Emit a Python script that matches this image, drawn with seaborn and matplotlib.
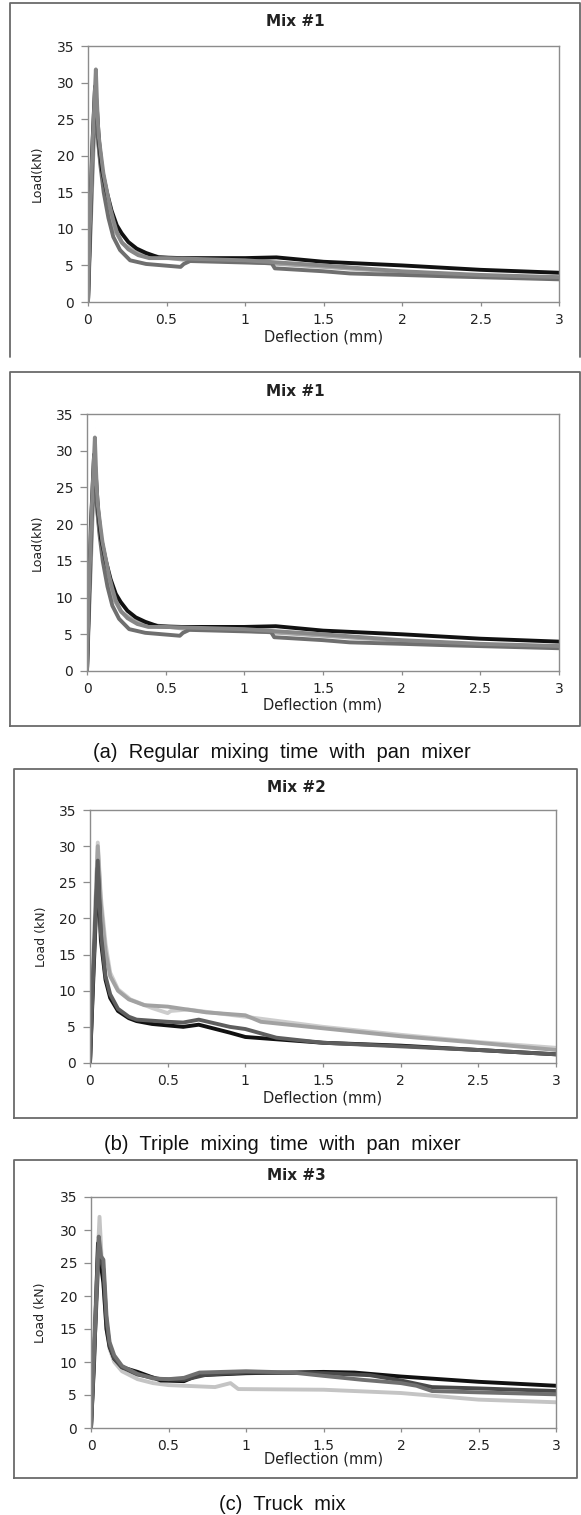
import pandas as pd
import matplotlib
matplotlib.use("Agg")
import matplotlib.pyplot as plt
from matplotlib.lines import Line2D
import seaborn as sns

# Mix #1 (regular mixing time, pan mixer) - four specimens
m1_black_x = [0, 0.01, 0.025, 0.045, 0.055, 0.07, 0.09, 0.12, 0.15, 0.183, 0.214, 0.257, 0.31, 0.37, 0.45, 0.6, 1.0, 1.2, 1.5, 2.0, 2.5, 3.0]
m1_black_y = [0, 8, 20, 29.5, 27, 22, 18, 15, 12.5, 10.5, 9.4, 8.2, 7.3, 6.7, 6.1, 6.0, 6.0, 6.1, 5.5, 5.0, 4.4, 4.0]
m1_gray_x = [0, 0.01, 0.03, 0.05, 0.058, 0.066, 0.081, 0.098, 0.119, 0.14, 0.161, 0.183, 0.214, 0.257, 0.32, 0.39, 0.5, 1.0, 1.5, 2.0, 2.5, 3.0]
m1_gray_y = [0, 9, 22, 31.8, 27, 23.1, 20.4, 17.6, 15.3, 13.0, 11.2, 9.6, 8.2, 7.2, 6.4, 6.0, 6.0, 5.7, 5.0, 4.2, 3.7, 3.4]
m1_dark_x = [0, 0.01, 0.03, 0.045, 0.06, 0.08, 0.1, 0.13, 0.161, 0.204, 0.268, 0.37, 0.48, 0.59, 0.61, 0.65, 1.0, 1.17, 1.19, 1.5, 1.67, 2.0, 2.3, 3.0]
m1_dark_y = [0, 7, 20, 28, 23, 18.5, 15, 11.5, 8.9, 7.1, 5.7, 5.2, 5.0, 4.8, 5.2, 5.6, 5.4, 5.3, 4.6, 4.2, 3.9, 3.7, 3.5, 3.1]
m1_light_x = [0, 0.02, 0.045, 0.06, 0.08, 0.1, 0.13, 0.17, 0.22, 0.3, 0.4, 0.6, 1.0, 1.5, 2.0, 2.5, 3.0]
m1_light_y = [0, 12, 27, 23, 19, 16, 12.5, 9.8, 8.0, 6.8, 6.3, 5.8, 5.5, 4.8, 4.1, 3.6, 3.3]

# Mix #2 (triple mixing time, pan mixer)
m2_light_x = [0, 0.02, 0.05, 0.07, 0.1, 0.13, 0.18, 0.26, 0.4, 0.5, 0.52, 0.63, 1.0, 1.5, 2.0, 2.5, 3.0]
m2_light_y = [0, 14, 30.5, 23, 16.5, 12.5, 10.2, 8.8, 7.6, 6.9, 7.2, 7.4, 6.4, 5.0, 3.9, 2.9, 2.1]
m2_mid_x = [0, 0.02, 0.05, 0.07, 0.1, 0.13, 0.18, 0.25, 0.35, 0.5, 0.75, 1.0, 1.1, 1.5, 2.0, 2.5, 3.0]
m2_mid_y = [0, 13, 30, 22, 15.5, 12, 10, 8.8, 8.0, 7.8, 7.0, 6.6, 5.7, 4.8, 3.7, 2.8, 1.8]
m2_dark_x = [0, 0.02, 0.05, 0.07, 0.1, 0.13, 0.18, 0.25, 0.3, 0.5, 0.6, 0.7, 0.9, 1.0, 1.2, 1.5, 2.0, 2.5, 3.0]
m2_dark_y = [0, 12, 28, 18, 12, 9.5, 7.5, 6.4, 6.0, 5.7, 5.6, 6.0, 5.0, 4.7, 3.5, 2.8, 2.3, 1.8, 1.2]
m2_black_x = [0, 0.02, 0.05, 0.07, 0.1, 0.13, 0.18, 0.25, 0.3, 0.4, 0.6, 0.7, 0.9, 1.0, 1.5, 2.0, 2.5, 3.0]
m2_black_y = [0, 11, 27, 17, 11.5, 9.0, 7.2, 6.2, 5.8, 5.4, 5.0, 5.3, 4.2, 3.6, 2.8, 2.4, 1.8, 1.2]

# Mix #3 (truck mix)
m3_light_x = [0, 0.02, 0.055, 0.07, 0.08, 0.1, 0.12, 0.15, 0.2, 0.3, 0.4, 0.5, 0.8, 0.9, 0.95, 1.5, 2.0, 2.5, 3.0]
m3_light_y = [0, 14, 32, 25, 22, 15, 12, 10, 8.6, 7.4, 6.8, 6.5, 6.2, 6.8, 5.9, 5.8, 5.3, 4.3, 3.9]
m3_dark_x = [0, 0.02, 0.05, 0.065, 0.08, 0.1, 0.12, 0.15, 0.2, 0.3, 0.4, 0.5, 0.6, 0.7, 1.0, 1.3, 1.5, 1.75, 2.0, 2.1, 2.2, 2.5, 3.0]
m3_dark_y = [0, 12, 29, 26, 25.5, 17, 13, 11, 9.4, 8.2, 7.5, 7.4, 7.6, 8.4, 8.6, 8.4, 7.9, 7.3, 6.8, 6.4, 5.6, 5.4, 5.1]
m3_mid_x = [0, 0.02, 0.05, 0.08, 0.1, 0.12, 0.15, 0.2, 0.3, 0.45, 0.6, 0.75, 1.0, 1.5, 1.8, 2.0, 2.2, 2.5, 3.0]
m3_mid_y = [0, 11, 27, 24, 16, 12.5, 10.5, 9.2, 8.1, 7.4, 7.3, 8.1, 8.4, 8.3, 8.0, 7.2, 6.2, 6.0, 5.6]
m3_black_x = [0, 0.02, 0.045, 0.08, 0.1, 0.12, 0.15, 0.2, 0.3, 0.45, 0.6, 0.65, 0.7, 1.0, 1.5, 1.7, 1.8, 2.0, 2.5, 3.0]
m3_black_y = [0, 10, 28, 22, 15, 12.3, 10.5, 9.2, 8.5, 7.2, 7.1, 7.6, 8.0, 8.3, 8.5, 8.4, 8.2, 7.8, 7.0, 6.4]

titles = ["Mix #1", "Mix #1", "Mix #2", "Mix #3"]
ylabels = ["Load(kN)", "Load(kN)", "Load (kN)", "Load (kN)"]
captions = ["(a)  Regular  mixing  time  with  pan  mixer",
            "(b)  Triple  mixing  time  with  pan  mixer",
            "(c)  Truck  mix"]
x_ticks = [0, 0.5, 1, 1.5, 2, 2.5, 3]
x_ticklabels = ["0", "0.5", "1", "1.5", "2", "2.5", "3"]
y_ticks = [0, 5, 10, 15, 20, 25, 30, 35]


def build(curves):
    rows = []
    for name, xs, ys in curves:
        for x, y in zip(xs, ys):
            rows.append({"Deflection": x, "Load": y, "Specimen": name})
    return pd.DataFrame(rows)


mix1 = build([("light", m1_light_x, m1_light_y), ("dark", m1_dark_x, m1_dark_y),
              ("black", m1_black_x, m1_black_y), ("gray", m1_gray_x, m1_gray_y)])
mix2 = build([("light", m2_light_x, m2_light_y), ("mid", m2_mid_x, m2_mid_y),
              ("black", m2_black_x, m2_black_y), ("dark", m2_dark_x, m2_dark_y)])
mix3 = build([("light", m3_light_x, m3_light_y), ("black", m3_black_x, m3_black_y),
              ("mid", m3_mid_x, m3_mid_y), ("dark", m3_dark_x, m3_dark_y)])

pal1 = {"light": "#a8a8a8", "dark": "#6f6f6f", "black": "#111111", "gray": "#878787"}
pal2 = {"light": "#cdcdcd", "mid": "#a2a2a2", "black": "#111111", "dark": "#5e5e5e"}
pal3 = {"light": "#c4c4c4", "black": "#111111", "mid": "#4a4a4a", "dark": "#707070"}

sns.set_style("ticks")
plt.rcParams["font.family"] = ["DejaVu Sans"]

W, H = 581, 1515
fig = plt.figure(figsize=(W / 100, H / 100), dpi=100)


def px_rect(l, r, t, b):
    return [l / W, 1 - b / H, (r - l) / W, (b - t) / H]


def frame(l, r, t, b, closed=True):
    xs = [l, l, r, r] + ([l] if closed else [])
    ys = [b, t, t, b] + ([b] if closed else [])
    fig.add_artist(Line2D([x / W for x in xs], [1 - y / H for y in ys],
                          color="#6a6a6a", lw=1.3, transform=fig.transFigure))


# (axes box, title y, xlabel y, ylabel x, chart-area centre x) in pixels
layout = [
    ((88, 559, 46, 302), 22, 337, 37, 295),
    ((87, 559, 414, 671), 391, 705, 37, 295),
    ((90, 556, 810, 1063), 787, 1098, 41, 296),
    ((91, 556, 1197, 1428), 1175, 1459, 41, 296),
]
datasets = [(mix1, pal1), (mix1, pal1), (mix2, pal2), (mix3, pal3)]

frame(10, 580, 3, 357, closed=False)
frame(10, 580, 372, 726)
frame(14, 577, 769, 1118)
frame(14, 577, 1160, 1478)

for i, ((l, r, t, b), ty, xy, yx, cx) in enumerate(layout):
    ax = fig.add_axes(px_rect(l, r, t, b))
    df, pal = datasets[i]
    sns.lineplot(data=df, x="Deflection", y="Load", hue="Specimen", palette=pal,
                 estimator=None, sort=False, legend=False, linewidth=2.8, ax=ax)
    ax.set_xlim(0, 3)
    ax.set_ylim(0, 35)
    ax.set_xticks(x_ticks)
    ax.set_xticklabels(x_ticklabels)
    ax.set_yticks(y_ticks)
    for s in ax.spines.values():
        s.set_color("#8c8c8c")
        s.set_linewidth(1.0)
    ax.tick_params(axis="y", length=5, width=0.9, color="#8c8c8c", pad=5,
                   labelsize=10, labelcolor="#222222")
    ax.tick_params(axis="x", length=3, width=0.9, color="#8c8c8c", pad=5,
                   labelsize=10, labelcolor="#222222")
    hgt = b - t
    ax.text((cx - l) / (r - l), 1 + (t - ty) / hgt, titles[i], transform=ax.transAxes,
            ha="center", va="center", fontsize=11, fontweight="bold", color="#222222")
    ax.set_xlabel("Deflection (mm)", fontsize=10.5, color="#222222")
    ax.xaxis.label.set_va("center")
    ax.xaxis.set_label_coords(0.5, -(xy - b) / hgt)
    ax.set_ylabel(ylabels[i], fontsize=9, color="#222222")
    ax.yaxis.label.set_va("center")
    ax.yaxis.set_label_coords(-(l - yx) / (r - l), 0.5)

for cap, cy in zip(captions, [753, 1144, 1505]):
    fig.text(282 / W, 1 - cy / H, cap, ha="center", va="center", fontsize=14.5,
             family=["Liberation Sans"], color="#111111")

fig.savefig("out.png", dpi=100, facecolor="white")
